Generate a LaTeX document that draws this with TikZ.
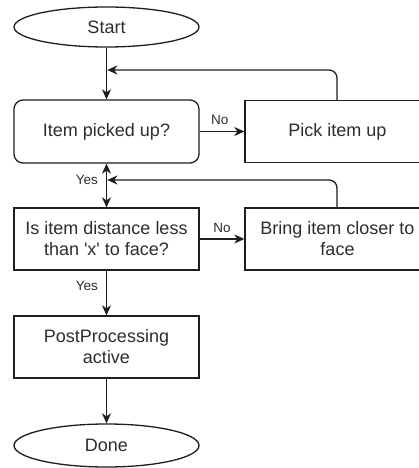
\documentclass[tikz,border=0pt]{standalone}
\usepackage{fontspec}
\setmainfont{Liberation Sans}[Ligatures=TeXOff]
\usetikzlibrary{arrows.meta,shapes.geometric,positioning}
\definecolor{ink}{RGB}{30,30,30}
\definecolor{txt}{RGB}{45,45,45}
\tikzset{
  base/.style={draw=ink, line width=1.3pt, fill=white, text=txt, align=center,
    font=\fontsize{18}{21}\selectfont, inner sep=0pt},
  term/.style={base, ellipse, minimum width=185pt, minimum height=40pt},
  rbox/.style={base, rectangle, rounded corners=9pt, minimum width=185pt, minimum height=63pt},
  sbox/.style={base, rectangle, minimum width=185pt, minimum height=62pt},
  flow/.style={draw=ink, line width=1.3pt, -{Stealth[length=10pt,width=9pt,inset=3pt]}},
  lbl/.style={text=txt, font=\fontsize{13.5}{16}\selectfont, inner sep=0pt}
}
\begin{document}
\begin{tikzpicture}[x=1pt, y=-1pt]
\clip (0,0) rectangle (419,468);
\fill[white] (0,0) rectangle (419,468);

% nodes
\node[term] (start) at (106.5,27) {Start};
\node[rbox] (picked) at (106.5,131.5) {Item picked up?};
\node[sbox] (pick) at (337.5,131.5) {Pick item up};
\node[sbox] (dist) at (106.5,239) {Is item distance less\\than 'x' to face?};
\node[sbox] (closer) at (337.5,239) {Bring item closer to\\face};
\node[sbox] (post) at (106.5,347) {PostProcessing\\active};
\node[term, minimum height=43pt] (done) at (106.5,445.5) {Done};

% loop-back join points on the main vertical line
\coordinate (j1) at (106.5,70);
\coordinate (j2) at (106.5,180);

% main flow
\draw[flow] (start) -- (picked);
\draw[flow] (picked) -- node[lbl, above=6pt, pos=0.45] {No} (pick);
\draw[flow] (picked) -- node[lbl, left=8pt, pos=0.38] {Yes} (dist);
\draw[flow] (dist) -- node[lbl, above=6pt, pos=0.5] {No} (closer);
\draw[flow] (dist) -- node[lbl, left=8pt, pos=0.35] {Yes} (post);
\draw[flow] (post) -- (done);

% loop-backs
\draw[flow, rounded corners=8pt] (pick.north -| 337,0) |- ([xshift=0.8pt]j1);
\draw[flow, rounded corners=8pt] (closer.north -| 337,0) |- ([xshift=0.8pt]j2);
\draw[flow] (j2) -- (picked.south);
\end{tikzpicture}
\end{document}
